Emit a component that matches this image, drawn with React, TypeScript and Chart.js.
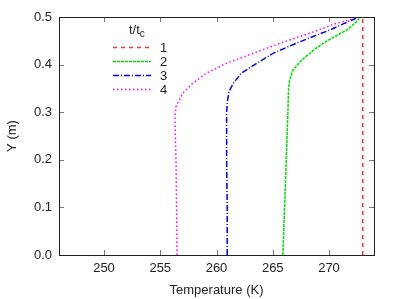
import React, { useEffect, useRef } from "react";
import { Chart, registerables } from "chart.js";

Chart.register(...registerables);

const seriesLabels = ["1", "2", "3", "4"];
const seriesColors = ["#ff3030", "#00e000", "#0000e0", "#ff00ff"];
const seriesDashes = [[4, 4], [3, 1], [6, 2, 1, 2], [1.5, 2.5]];

const xTicks = [250, 255, 260, 265, 270];
const yTicks = [0, 0.1, 0.2, 0.3, 0.4, 0.5];

// series 1 (t/tc = 1)
const y1 = [0, 0.5];
const t1 = [273.0, 273.0];

// series 2
const y2 = [0, 0.1, 0.2, 0.3, 0.347, 0.368, 0.389, 0.41, 0.43, 0.445, 0.46, 0.473, 0.487, 0.497];
const t2 = [265.9, 266.05, 266.2, 266.35, 266.4, 266.5, 266.8, 267.6, 268.6, 269.5, 270.6, 271.6, 272.3, 272.7];

// series 3
const y3 = [0, 0.1, 0.2, 0.3, 0.319, 0.343, 0.361, 0.382, 0.403, 0.424, 0.445, 0.46, 0.473, 0.487, 0.497];
const t3 = [260.95, 260.95, 260.9, 260.9, 260.95, 261.1, 261.5, 262.2, 263.6, 265.05, 267.1, 268.7, 270.1, 271.4, 272.4];

// series 4
const y4 = [0, 0.1, 0.2, 0.29, 0.3115, 0.34, 0.361, 0.382, 0.403, 0.424, 0.445, 0.466, 0.487, 0.497];
const t4 = [256.5, 256.45, 256.4, 256.3, 256.4, 257.0, 257.9, 259.1, 260.9, 263.3, 265.65, 268.3, 270.7, 272.3];

const ys = [y1, y2, y3, y4];
const ts = [t1, t2, t3, t4];

const FONT = "'Liberation Sans', Arial, sans-serif";
const TEXT = "#222222";

const framePlugin = {
  id: "frame",
  afterDraw(chart: any) {
    const { ctx, chartArea } = chart;
    const { left, right, top, bottom } = chartArea;
    const xs = chart.scales.x;
    const yS = chart.scales.y;
    ctx.save();
    // ticks inward
    ctx.strokeStyle = "#777777";
    ctx.lineWidth = 1;
    ctx.beginPath();
    const tl = 5;
    xTicks.forEach((v) => {
      const px = Math.round(xs.getPixelForValue(v)) + 0.5;
      ctx.moveTo(px, bottom);
      ctx.lineTo(px, bottom - tl);
      ctx.moveTo(px, top);
      ctx.lineTo(px, top + tl);
    });
    yTicks.forEach((v) => {
      const py = Math.round(yS.getPixelForValue(v)) + 0.5;
      ctx.moveTo(left, py);
      ctx.lineTo(left + tl, py);
      ctx.moveTo(right, py);
      ctx.lineTo(right - tl, py);
    });
    ctx.stroke();
    // border
    ctx.strokeStyle = "#222222";
    ctx.lineWidth = 1;
    ctx.strokeRect(Math.round(left) + 0.5, Math.round(top) + 0.5, Math.round(right - left), Math.round(bottom - top));

    // legend
    ctx.fillStyle = TEXT;
    ctx.textBaseline = "alphabetic";
    ctx.textAlign = "left";
    ctx.font = `13px ${FONT}`;
    ctx.fillText("t/t", 129, 34);
    const w = ctx.measureText("t/t").width;
    ctx.font = `10px ${FONT}`;
    ctx.fillText("c", 129 + w, 37);
    const rows = [47, 61, 75, 89];
    rows.forEach((ry, i) => {
      ctx.save();
      ctx.strokeStyle = seriesColors[i];
      ctx.lineWidth = 1.5;
      ctx.setLineDash(seriesDashes[i]);
      ctx.beginPath();
      ctx.moveTo(113, ry + 0.5);
      ctx.lineTo(151, ry + 0.5);
      ctx.stroke();
      ctx.restore();
      ctx.fillStyle = TEXT;
      ctx.font = `13px ${FONT}`;
      ctx.textBaseline = "middle";
      ctx.fillText(seriesLabels[i], 160, ry + 1);
    });
    ctx.restore();
  },
};

export default function App() {
  const ref = useRef<HTMLCanvasElement | null>(null);
  useEffect(() => {
    if (!ref.current) return;
    const datasets = seriesLabels.map((lab, i) => ({
      label: lab,
      data: ys[i].map((yv, j) => ({ x: ts[i][j], y: yv })),
      showLine: true,
      borderColor: seriesColors[i],
      backgroundColor: seriesColors[i],
      borderWidth: 1.5,
      borderDash: seriesDashes[i],
      pointRadius: 0,
      tension: 0,
      fill: false,
    }));
    const chart = new Chart(ref.current, {
      type: "scatter",
      data: { datasets },
      options: {
        responsive: false,
        animation: false,
        devicePixelRatio: 1,
        layout: { padding: { top: 17, right: 25, left: 0, bottom: 0 } },
        plugins: { legend: { display: false }, tooltip: { enabled: false } },
        scales: {
          x: {
            type: "linear",
            min: 246,
            max: 274,
            afterBuildTicks: (s: any) => {
              s.ticks = xTicks.map((v) => ({ value: v }));
            },
            afterFit: (s: any) => {
              s.height = 44;
            },
            grid: { display: false, drawTicks: false },
            border: { display: false },
            ticks: {
              padding: 6,
              color: TEXT,
              font: { family: FONT, size: 13 },
              callback: (v: any) => String(v),
              maxRotation: 0,
            },
            title: {
              display: true,
              text: "Temperature (K)",
              color: TEXT,
              font: { family: FONT, size: 13 },
              padding: { top: 0, bottom: 1 },
            },
          },
          y: {
            type: "linear",
            min: 0,
            max: 0.5,
            afterBuildTicks: (s: any) => {
              s.ticks = yTicks.map((v) => ({ value: v }));
            },
            afterFit: (s: any) => {
              s.width = 59;
            },
            grid: { display: false, drawTicks: false },
            border: { display: false },
            ticks: {
              padding: 7,
              color: TEXT,
              font: { family: FONT, size: 13 },
              callback: (v: any) => Number(v).toFixed(1),
            },
            title: {
              display: true,
              text: "Y (m)",
              color: TEXT,
              font: { family: FONT, size: 13 },
              padding: { top: 5, bottom: 0 },
            },
          },
        },
      },
      plugins: [framePlugin],
    } as any);
    return () => chart.destroy();
  }, []);
  return (
    <div style={{ position: "fixed", left: 0, top: 0, width: 399, height: 299, background: "#fff" }}>
      <canvas ref={ref} width={399} height={299} style={{ width: 399, height: 299 }} />
    </div>
  );
}
